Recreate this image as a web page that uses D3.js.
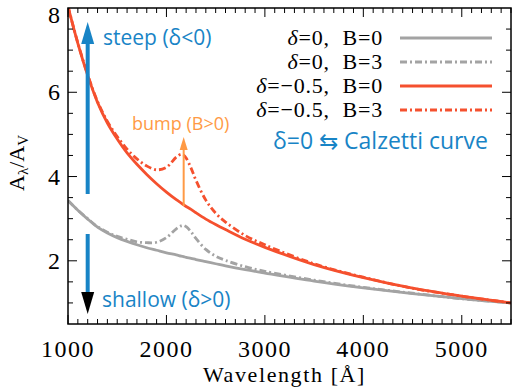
<!DOCTYPE html>
<html>
<head>
<meta charset="utf-8">
<script src="https://cdn.jsdelivr.net/npm/d3@7"></script>
<style>
  body { margin: 0; background: #fff; }
  svg { display: block; }
</style>
</head>
<body>
<div id="chart"></div>
<script>
// values
const wavelength = [1000, 1100, 1200, 1300, 1400, 1500, 1600, 1700, 1800, 1900, 2000, 2100, 2150, 2175, 2200, 2250, 2300, 2400, 2500, 2600, 2800, 3000, 3500, 4000, 4500, 5000, 5500];
const d0_b0  = [3.43, 3.20, 2.99, 2.80, 2.66, 2.55, 2.46, 2.38, 2.31, 2.25, 2.19, 2.14, 2.11, 2.10, 2.08, 2.06, 2.03, 1.98, 1.93, 1.88, 1.79, 1.71, 1.52, 1.36, 1.22, 1.10, 1.00];
const d0_b3  = [3.43, 3.20, 3.00, 2.81, 2.68, 2.58, 2.51, 2.45, 2.43, 2.44, 2.55, 2.76, 2.83, 2.84, 2.81, 2.69, 2.53, 2.27, 2.11, 2.01, 1.86, 1.75, 1.54, 1.37, 1.23, 1.10, 1.00];
const dm05_b0 = [8.04, 7.16, 6.40, 5.76, 5.27, 4.89, 4.56, 4.29, 4.05, 3.83, 3.63, 3.45, 3.37, 3.33, 3.29, 3.22, 3.14, 2.99, 2.86, 2.74, 2.51, 2.32, 1.91, 1.60, 1.35, 1.16, 1.00];
const dm05_b3 = [8.04, 7.17, 6.42, 5.78, 5.31, 4.95, 4.65, 4.42, 4.25, 4.16, 4.22, 4.46, 4.53, 4.51, 4.44, 4.20, 3.91, 3.44, 3.13, 2.92, 2.60, 2.38, 1.93, 1.61, 1.35, 1.16, 1.00];

const xTicks = [1000, 2000, 3000, 4000, 5000];
const yTicks = [2, 4, 6, 8];
const legendLabels = [["δ", "=0,  B=0"], ["δ", "=0,  B=3"], ["δ", "=−0.5,  B=0"], ["δ", "=−0.5,  B=3"]];

const GRAY = "#a3a3a3", RED = "#f5502e", BLUE = "#1884c6", ORANGE = "#ff9a45";
const SERIF = "Liberation Serif";

const svgWidth = 512, svgHeight = 387;
const margin = {top: 8, right: 1, bottom: 63, left: 68};
const width = svgWidth - margin.left - margin.right;
const height = svgHeight - margin.top - margin.bottom;

const svg = d3.select("#chart").append("svg")
    .attr("width", svgWidth)
    .attr("height", svgHeight);

svg.append("defs").append("clipPath").attr("id", "clip")
    .append("rect").attr("width", width).attr("height", height);

const g = svg.append("g")
    .attr("transform", `translate(${margin.left},${margin.top})`);

const x = d3.scaleLinear().domain([1000, 5500]).range([0, width]);
const y = d3.scaleLinear().domain([0.5, 8]).range([height, 0]);

// curves (dash-dot ones underneath)
const series = [
    {vals: d0_b3, color: GRAY, dash: true},
    {vals: d0_b0, color: GRAY, dash: false},
    {vals: dm05_b3, color: RED, dash: true},
    {vals: dm05_b0, color: RED, dash: false}
];

const line = d3.line()
    .x(d => x(d[0]))
    .y(d => y(d[1]))
    .curve(d3.curveCatmullRom.alpha(0.5));

const curves = g.append("g").attr("clip-path", "url(#clip)");
series.forEach(s => {
    curves.append("path")
        .datum(wavelength.map((w, i) => [w, s.vals[i]]))
        .attr("fill", "none")
        .attr("stroke", s.color)
        .attr("stroke-width", 2.8)
        .attr("stroke-dasharray", s.dash ? "7,3,2,3" : null)
        .attr("d", line);
});

// axes box with inward ticks on all sides
const tickG = g.append("g").attr("stroke", "#000").attr("stroke-width", 1);
d3.range(1000, 5501, 100).forEach(v => {
    const len = v % 1000 === 0 ? 9 : 5;
    tickG.append("line").attr("x1", x(v)).attr("x2", x(v)).attr("y1", height).attr("y2", height - len);
    tickG.append("line").attr("x1", x(v)).attr("x2", x(v)).attr("y1", 0).attr("y2", len);
});
d3.range(1, 8, 0.5).forEach(v => {
    const len = v % 2 === 0 ? 9 : 5;
    tickG.append("line").attr("y1", y(v)).attr("y2", y(v)).attr("x1", 0).attr("x2", len);
    tickG.append("line").attr("y1", y(v)).attr("y2", y(v)).attr("x1", width).attr("x2", width - len);
});
g.append("rect")
    .attr("width", width).attr("height", height)
    .attr("fill", "none").attr("stroke", "#000").attr("stroke-width", 1.5);

// tick labels
g.selectAll(".xlab").data(xTicks).enter().append("text")
    .attr("x", d => x(d)).attr("y", height + 33)
    .attr("text-anchor", "middle")
    .attr("font-family", SERIF).attr("font-size", 24)
    .attr("letter-spacing", 1.5)
    .text(d => d);

g.selectAll(".ylab").data(yTicks).enter().append("text")
    .attr("x", -8).attr("y", d => Math.max(y(d), 7) + 8)
    .attr("text-anchor", "end")
    .attr("font-family", SERIF).attr("font-size", 24)
    .text(d => d);

// axis titles
g.append("text")
    .attr("x", width / 2 - 5).attr("y", height + 58)
    .attr("text-anchor", "middle")
    .attr("font-family", SERIF).attr("font-size", 22)
    .attr("letter-spacing", 1.6)
    .text("Wavelength [Å]");

const yt = g.append("text")
    .attr("transform", `translate(${-44},${height / 2 - 3}) rotate(-90)`)
    .attr("text-anchor", "middle")
    .attr("font-family", SERIF).attr("font-size", 22);
yt.append("tspan").text("A");
yt.append("tspan").attr("font-size", 15).attr("dy", 4).text("λ");
yt.append("tspan").attr("dy", -4).text("/A");
yt.append("tspan").attr("font-size", 15).attr("dy", 4).text("V");

// legend
const legend = g.append("g");
legendLabels.forEach((lab, i) => {
    const ly = 30 + i * 24;
    const t = legend.append("text")
        .attr("x", 315).attr("y", ly + 7)
        .attr("text-anchor", "end")
        .attr("font-family", SERIF).attr("font-size", 22)
        .attr("letter-spacing", 0.8)
        .attr("xml:space", "preserve");
    t.append("tspan").attr("font-style", "italic").text(lab[0]);
    t.append("tspan").text(lab[1]);
    const s = [series[1], series[0], series[3], series[2]][i];
    legend.append("line")
        .attr("x1", 332).attr("x2", 424).attr("y1", ly).attr("y2", ly)
        .attr("stroke", s.color).attr("stroke-width", 2.8)
        .attr("stroke-dasharray", s.dash ? "7,3,2,3" : null);
});

legend.append("text")
    .attr("x", 205).attr("y", 141)
    .attr("font-family", "Open Sans").attr("font-size", 23)
    .attr("fill", BLUE)
    .text("δ=0 ⇆ Calzetti curve");

// annotations
const ax = x(1200);
function arrowHead(px, py, dir, w, h, color) {
    g.append("path")
        .attr("d", `M${px},${py} L${px - w / 2},${py - dir * h} L${px + w / 2},${py - dir * h} Z`)
        .attr("fill", color);
}
g.append("line").attr("x1", ax).attr("x2", ax).attr("y1", 186).attr("y2", 30)
    .attr("stroke", BLUE).attr("stroke-width", 4);
arrowHead(ax, 14, -1, 13, 22, BLUE);
g.append("line").attr("x1", ax).attr("x2", ax).attr("y1", 226).attr("y2", 290)
    .attr("stroke", BLUE).attr("stroke-width", 4);
arrowHead(ax, 306, 1, 13, 22, "#000");

g.append("text").attr("x", 35).attr("y", 37)
    .attr("font-family", "Open Sans").attr("font-size", 21).attr("fill", BLUE)
    .text("steep (δ<0)");
g.append("text").attr("x", 34).attr("y", 299)
    .attr("font-family", "Open Sans").attr("font-size", 21).attr("fill", BLUE)
    .text("shallow (δ>0)");

const bx = x(2175);
g.append("line").attr("x1", bx).attr("x2", bx).attr("y1", 198).attr("y2", 140)
    .attr("stroke", ORANGE).attr("stroke-width", 2);
arrowHead(bx, 129, -1, 8, 13, ORANGE);
g.append("text").attr("x", bx - 3).attr("y", 122)
    .attr("text-anchor", "middle")
    .attr("font-family", "Open Sans").attr("font-size", 18).attr("fill", ORANGE)
    .text("bump (B>0)");
</script>
</body>
</html>
